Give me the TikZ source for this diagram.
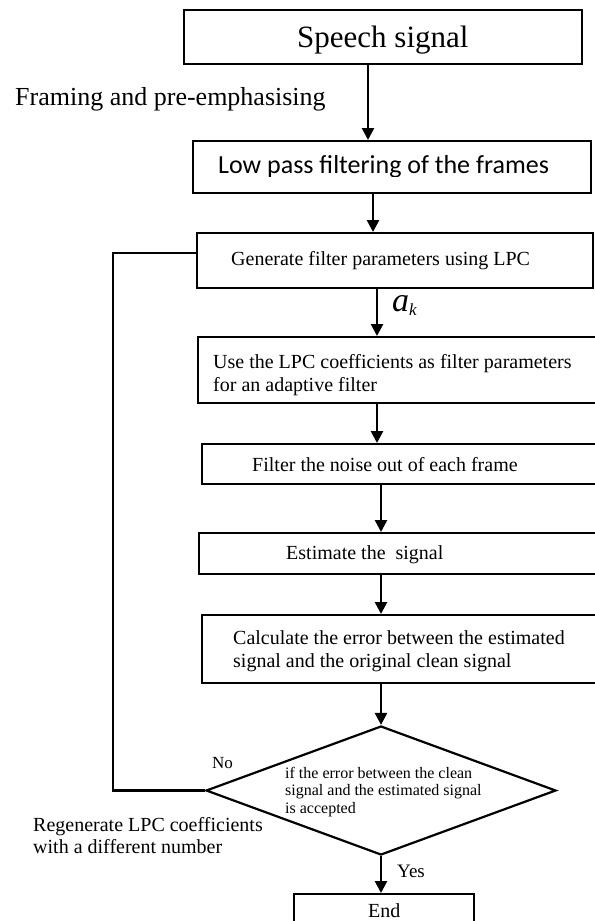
\documentclass[tikz,border=0pt]{standalone}
\usepackage{fontspec}
\setmainfont{Liberation Serif}
\newfontfamily\calibri{Carlito}
\usetikzlibrary{arrows.meta,shapes.geometric}
\newcommand{\fsz}[2]{\fontsize{#1bp}{#2bp}\selectfont}
\tikzset{
  box/.style={draw=black, line width=2bp, rectangle, inner sep=0pt, anchor=north west},
  txt/.style={inner sep=0pt, anchor=base west, align=left},
  arr/.style={draw=black, line width=2.6bp, -{Triangle[width=12bp,length=12bp]}},
  line/.style={draw=black, line width=2.4bp},
}
\begin{document}
\begin{tikzpicture}[x=1bp,y=-1bp]
\useasboundingbox (0,0) rectangle (595,921);
\clip (0,0) rectangle (595,921);
\fill[white] (0,0) rectangle (595,921);
% column coordinates for vertical connectors
\coordinate (xa) at (368,0);
\coordinate (xb) at (373,0);
\coordinate (xc) at (377,0);
\coordinate (xd) at (381,0);
\coordinate (fbtop) at (113,253);

% boxes
\node[box, minimum width=398bp, minimum height=54bp] (speech) at (183,9) {};
\node[box, minimum width=398bp, minimum height=52bp] (lp) at (192,140) {};
\node[box, minimum width=396bp, minimum height=55bp] (gen) at (196,232) {};
\node[box, minimum width=420bp, minimum height=66bp] (use) at (197,336) {};
\node[box, minimum width=420bp, minimum height=40bp] (filt) at (201,443) {};
\node[box, minimum width=420bp, minimum height=41bp] (est) at (198,532) {};
\node[box, minimum width=420bp, minimum height=68bp] (calc) at (201,614) {};
\node[draw=black, line width=2.2bp, diamond, inner sep=0pt, minimum width=350bp, minimum height=129bp] (dia) at (381,790.5) {};
\node[box, minimum width=180bp, minimum height=50bp] (endb) at (293,893) {};

% texts
\node[txt, font=\fsz{31}{36}] (tspeech) at (297,47) {Speech signal};
\node[txt, font=\fsz{26}{30}] (tframe) at (15,105) {Framing and pre-emphasising};
\begin{scope}
\clip (193,141) rectangle (589,176);
\node[txt, font=\calibri\fsz{26}{30}] (tlp) at (218,173) {Low pass filtering of the frames};
\end{scope}
\node[txt, font=\fsz{20}{23}] (tgen) at (231,265) {Generate filter parameters using LPC};
\node[txt, font=\fsz{34}{36}\itshape] (tak) at (392,311) {a\raisebox{-4bp}{\fsz{17}{18}k}};
\node[txt, font=\fsz{20}{23}] (tuse) at (213,391) {Use the LPC coefficients as filter parameters\\for an adaptive filter};
\node[txt, font=\fsz{20}{23}] (tfilt) at (252,471) {Filter the noise out of each frame};
\node[txt, font=\fsz{20}{23}] (test) at (286,559) {Estimate the\ \ signal};
\node[txt, font=\fsz{20}{23}] (tcalc) at (233,667) {Calculate the error between the estimated\\signal and the original clean signal};
\node[txt, font=\fsz{16}{17.5}] (tdia) at (285,813) {if the error between the clean\\signal and the estimated signal\\is accepted};
\node[txt, font=\fsz{17}{20}] (tno) at (212,768) {No};
\node[txt, font=\fsz{20}{22}] (treg) at (33,853) {Regenerate LPC coefficients\\with a different number};
\node[txt, font=\fsz{19}{22}] (tyes) at (397,877) {Yes};
\node[txt, font=\fsz{20}{22}] (tend) at (368,917) {End};

% connectors
\draw[arr] (xa |- speech.south) -- (xa |- lp.north);
\draw[arr] (xb |- lp.south) -- (xb |- gen.north);
\draw[arr] (xc |- gen.south) -- (xc |- use.north);
\draw[arr] (xc |- use.south) -- (xc |- filt.north);
\draw[arr] (xd |- filt.south) -- (xd |- est.north);
\draw[arr] (xd |- est.south) -- (xd |- calc.north);
\draw[arr] (dia.north |- calc.south) -- (dia.north);
\draw[arr] (dia.south) -- (dia.south |- endb.north);
\draw[line] (dia.west) -| (fbtop) -- (fbtop -| gen.west);
\end{tikzpicture}
\end{document}
